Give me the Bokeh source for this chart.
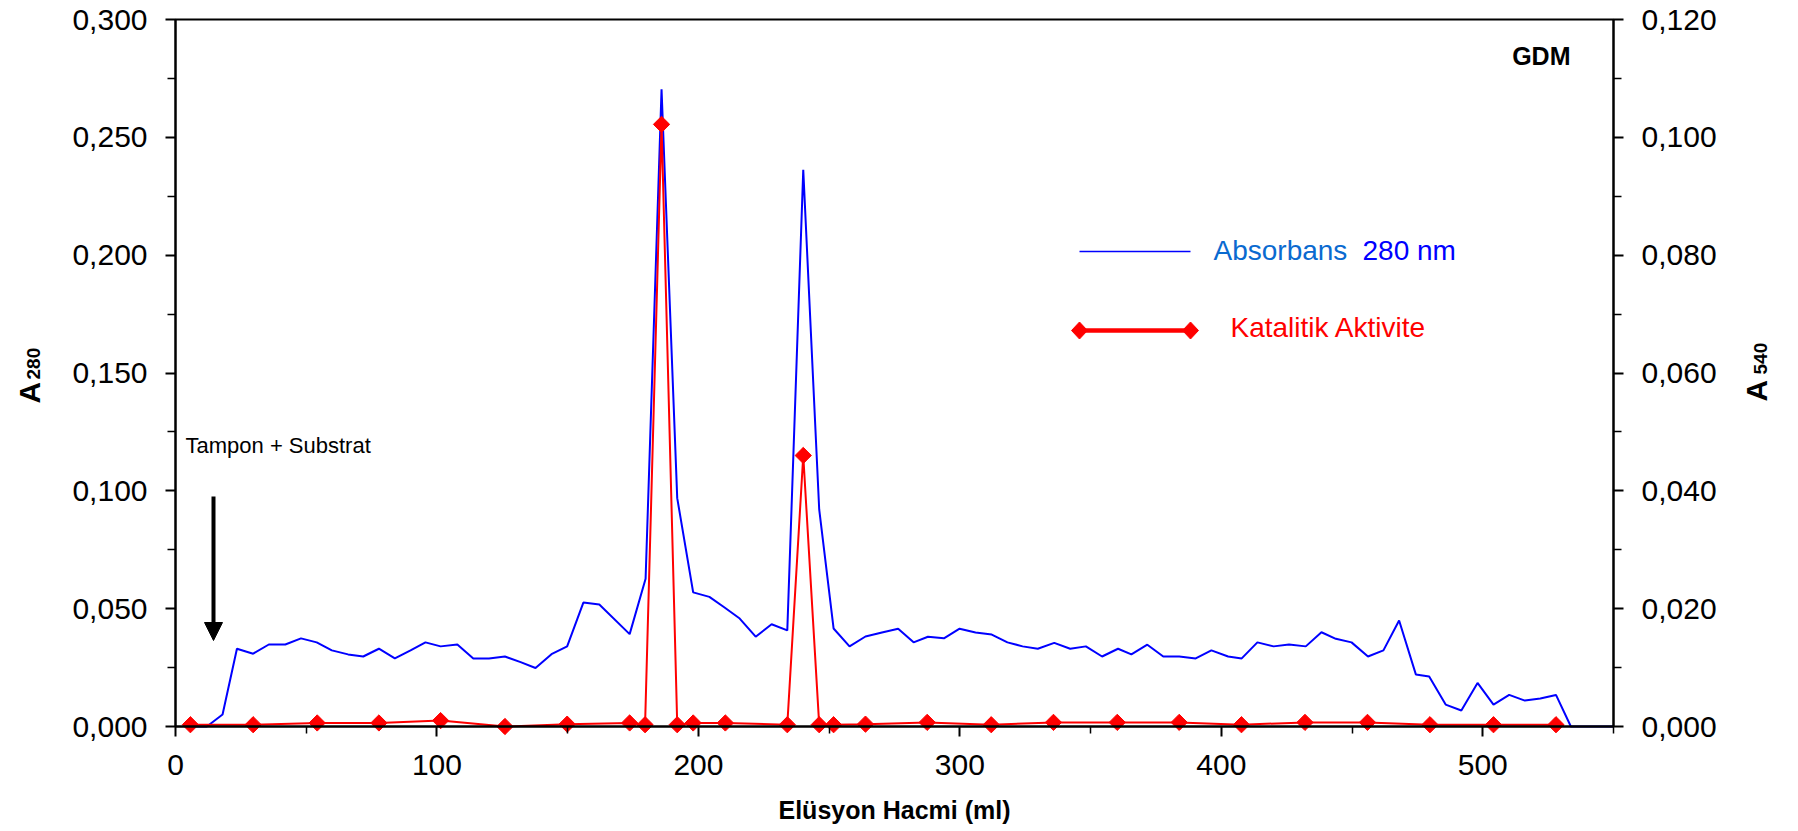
import numpy as np
from bokeh.plotting import figure
from bokeh.models import (Range1d, LinearAxis, FixedTicker, CustomJSTickFormatter,
                          Label, Arrow, NormalHead, PolyAnnotation, BoxAnnotation,
                          ColumnDataSource)
from bokeh.embed import file_html
from bokeh.resources import INLINE

# ---------------- data ----------------
vol_a280 = [6, 12, 18, 23.5, 29.7, 35.7, 42, 48, 54, 59.8,
            66, 71.8, 77.8, 83.9, 89.9, 95.6, 101.4, 107.8, 113.9, 119.9,
            126, 132, 137.7, 143.8, 149.8, 156, 162.1, 173.7, 179.8, 185.9,
            191.9, 198, 204.2, 210, 215.8, 221.9, 228, 234, 240.1, 246.2,
            251.7, 257.8, 263.9, 270.2, 276.4, 282.3, 287.8, 293.9, 299.9, 306,
            312.2, 318.2, 324, 329.8, 336.1, 342.2, 348.2, 354.4, 360.5, 365.6,
            371.7, 377.8, 383.9, 390.2, 396.2, 402.6, 407.8, 413.8, 420, 425.9,
            432.3, 438.3, 443.8, 449.8, 456.1, 462, 468, 474.4, 479.5, 485.8,
            491.8, 498, 504.1, 510.1, 516.1, 522, 528, 533.7, 550]
a280 = [0, 0, 0.0051, 0.033, 0.0309, 0.0348, 0.0348, 0.0374, 0.0357, 0.0323,
        0.0306, 0.0297, 0.033, 0.0289, 0.0323, 0.0357, 0.034, 0.0348, 0.0289, 0.0289,
        0.0297, 0.0273, 0.0248, 0.0307, 0.034, 0.0526, 0.0518, 0.0392, 0.0627, 0.2704,
        0.0969, 0.0569, 0.055, 0.0505, 0.0458, 0.0381, 0.0434, 0.0408, 0.2362, 0.0921,
        0.0416, 0.034, 0.0382, 0.0399, 0.0415, 0.0357, 0.0381, 0.0374, 0.0415, 0.0399,
        0.039, 0.0357, 0.034, 0.033, 0.0355, 0.033, 0.034, 0.0297, 0.033, 0.0306,
        0.0347, 0.0297, 0.0297, 0.0289, 0.0323, 0.0297, 0.0289, 0.0357, 0.034, 0.0348,
        0.034, 0.04, 0.0372, 0.0357, 0.0297, 0.0323, 0.045, 0.0221, 0.0212, 0.0093,
        0.0068, 0.0185, 0.0093, 0.0134, 0.011, 0.0119, 0.0134, 0, 0]

vol_a540 = [5.7, 29.7, 54.2, 77.8, 101.4, 126, 149.8, 173.7, 179.6, 185.9,
            191.9, 198, 210.3, 234, 240.1, 246.2, 251.7, 263.9, 287.5, 312,
            335.8, 360.2, 383.9, 407.7, 432, 455.9, 479.8, 504.1, 528]
a540 = [0.0003, 0.0003, 0.0006, 0.0006, 0.001, 0.0, 0.0004, 0.0006, 0.0003, 0.1022,
        0.0003, 0.0006, 0.0006, 0.0003, 0.046, 0.0003, 0.0003, 0.0004, 0.0007, 0.0003,
        0.0007, 0.0007, 0.0007, 0.0003, 0.0007, 0.0007, 0.0003, 0.0003, 0.0003]

x_ticks = [0, 100, 200, 300, 400, 500]
x_minor = [50, 150, 250, 350, 450, 550]
left_ticks = [0.0, 0.05, 0.1, 0.15, 0.2, 0.25, 0.3]
left_minor = [0.025, 0.075, 0.125, 0.175, 0.225, 0.275]
right_ticks = [0.0, 0.02, 0.04, 0.06, 0.08, 0.1, 0.12]
right_minor = [0.01, 0.03, 0.05, 0.07, 0.09, 0.11]

x_title = "Elüsyon Hacmi (ml)"
blue_name = "Absorbans"
blue_unit = "280 nm"
red_name = "Katalitik Aktivite"
note = "Tampon + Substrat"
tag = "GDM"

FONT = "Liberation Sans"
BLUE = "#0000FF"
RED = "#FF0000"

# ---------------- geometry: plot box in page pixels ----------------
W, H = 1798, 831
FX0, FX1, FY0, FY1 = 175.0, 1613.0, 726.0, 19.0
XMAX, YMAX, RMAX = 550.0, 0.3, 0.12
kx = (FX1 - FX0) / XMAX
ky = (FY0 - FY1) / YMAX
kr = (FY0 - FY1) / RMAX

def dx(px):
    return (px - FX0) / kx

def dy(py):
    return (FY0 - py) / ky

p = figure(width=W, height=H, output_backend="svg", toolbar_location=None,
           title=None,
           x_range=Range1d(dx(0), dx(W)), y_range=Range1d(dy(H), dy(0)),
           min_border_left=0, min_border_right=0, min_border_top=0,
           min_border_bottom=0)
p.extra_y_ranges = {"right": Range1d((FY0 - H) / kr, FY0 / kr)}
p.xgrid.visible = False
p.ygrid.visible = False
p.outline_line_color = None
p.background_fill_color = "white"
p.border_fill_color = "white"

fmt = CustomJSTickFormatter(code="return tick.toFixed(3).replace('.', ',');")

def style_axis(ax, standoff):
    ax.axis_line_width = 2
    ax.axis_line_color = "black"
    ax.major_tick_line_width = 2
    ax.minor_tick_line_width = 1.5
    ax.major_tick_in = 0
    ax.minor_tick_in = 0
    ax.major_tick_out = 10
    ax.minor_tick_out = 8
    ax.major_label_text_font = FONT
    ax.major_label_text_font_size = "30px"
    ax.major_label_text_color = "black"
    ax.major_label_standoff = standoff

xa = p.xaxis[0]
xa.ticker = FixedTicker(ticks=x_ticks, minor_ticks=x_minor)
xa.bounds = (0, XMAX)
xa.fixed_location = 0
style_axis(xa, 18)
xa.minor_tick_out = 7

ya = p.yaxis[0]
ya.ticker = FixedTicker(ticks=left_ticks, minor_ticks=left_minor)
ya.formatter = fmt
ya.bounds = (0, YMAX)
ya.fixed_location = 0
style_axis(ya, 18)

ra = LinearAxis(y_range_name="right",
                ticker=FixedTicker(ticks=right_ticks, minor_ticks=right_minor),
                formatter=fmt, bounds=(0, RMAX), fixed_location=XMAX)
style_axis(ra, 18)
p.add_layout(ra, "right")

# plot box (top and right edges)
p.add_layout(BoxAnnotation(left=0, right=XMAX, bottom=0, top=YMAX,
                           fill_color=None, fill_alpha=0, line_color="black",
                           line_alpha=1, line_width=2))

# ---------------- series ----------------
src_b = ColumnDataSource(dict(x=vol_a280, y=a280))
src_r = ColumnDataSource(dict(x=vol_a540, y=a540))
p.line("x", "y", source=src_b, line_color=BLUE, line_width=2)
p.line("x", "y", source=src_r, line_color=RED, line_width=2, y_range_name="right")
p.scatter("x", "y", source=src_r, marker="square", angle=np.pi / 4, size=11.5,
          fill_color=RED, line_color=RED, y_range_name="right")

# ---------------- texts ----------------
SH = 0.37  # text anchor correction (fraction of font size)

def text(px, base, s, fs, color="black", bold=False, align="left"):
    p.add_layout(Label(x=dx(px), y=dy(base - SH * fs), text=s, text_font=FONT,
                       text_font_size=f"{fs}px", text_color=color,
                       text_font_style="bold" if bold else "normal",
                       text_align=align, text_baseline="alphabetic"))

def vtext(base_x, start_y, s, fs):
    p.add_layout(Label(x=dx(base_x - SH * fs), y=dy(start_y), text=s, angle=np.pi / 2,
                       text_font=FONT, text_font_size=f"{fs}px", text_color="black",
                       text_font_style="bold", text_align="left",
                       text_baseline="alphabetic"))

text(894, 819, x_title, 25, bold=True, align="center")
vtext(40, 403, "A", 30)
vtext(40, 379, "280", 19)
vtext(1767, 401, "A", 30)
vtext(1767, 374, "540", 19)

text(185, 453, note, 22)
p.add_layout(Arrow(end=NormalHead(size=18, fill_color="black", line_color="black"),
                   x_start=dx(213), y_start=dy(496), x_end=dx(213), y_end=dy(640),
                   line_width=4, line_color="black"))
text(1570, 65, tag, 25, bold=True, align="right")

# legend (drawn Excel-style)
k0, k1 = 1079, 1190
p.add_layout(Arrow(start=None, end=None, x_start=dx(k0), y_start=dy(251),
                   x_end=dx(k1), y_end=dy(251), line_color=BLUE, line_width=1.6))
text(1213, 260, blue_name, 28, color="#0A6AD0")
text(1362, 260, blue_unit, 28, color=BLUE)
p.add_layout(Arrow(start=None, end=None, x_start=dx(k0), y_start=dy(330),
                   x_end=dx(k1), y_end=dy(330), line_color=RED, line_width=4.5))
for cx in (k0, k1):
    p.add_layout(PolyAnnotation(xs=[dx(cx - 8), dx(cx), dx(cx + 8), dx(cx)],
                                ys=[dy(330), dy(321.5), dy(330), dy(338.5)],
                                fill_color=RED, fill_alpha=1, line_color=RED,
                                line_alpha=1, line_width=1))
text(1230, 337, red_name, 28, color=RED)

open("out.html", "w").write(file_html(p, INLINE))
